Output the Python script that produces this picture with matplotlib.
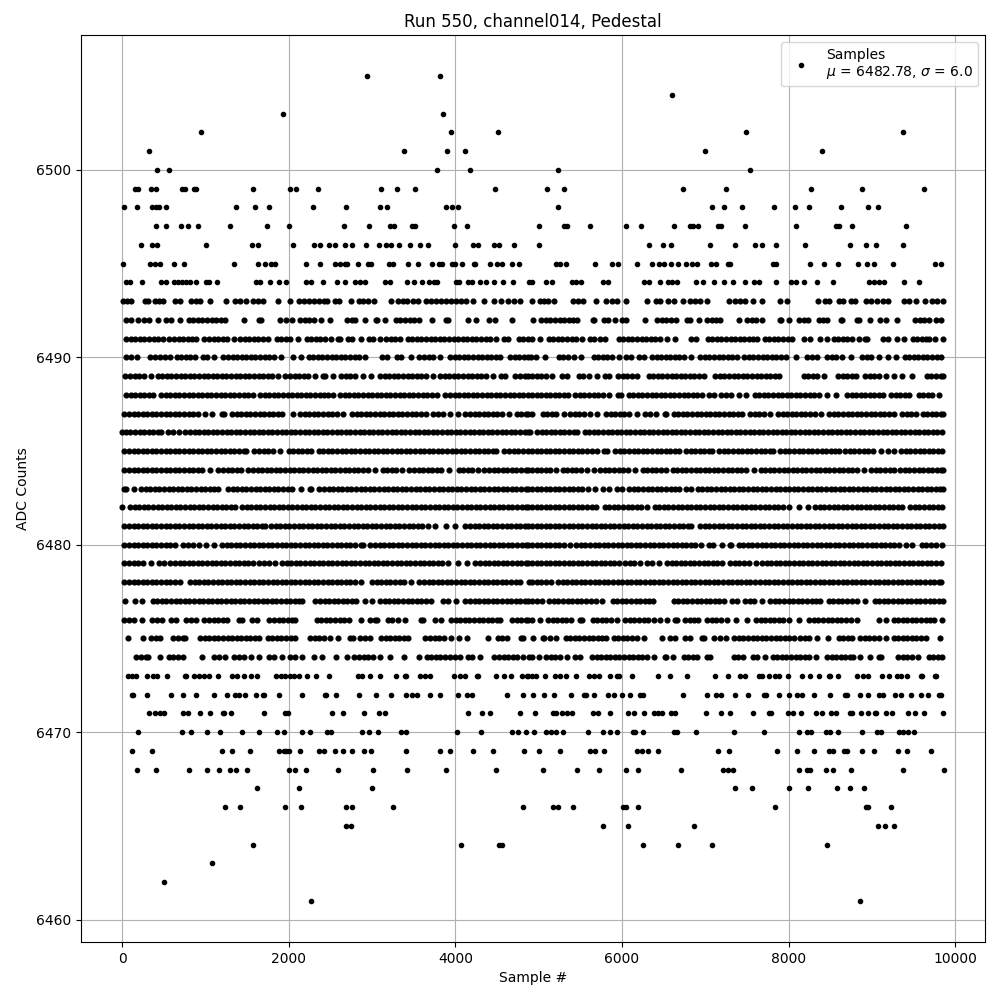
import numpy as np
import matplotlib
matplotlib.use("Agg")
import matplotlib.pyplot as plt

# sample numbers, one list per ADC level
s6505 = [2936, 3812]
s6504 = [6600]
s6503 = [1928, 3848]
s6502 = [944, 3944, 4508, 7488, 9372]
s6501 = [320, 3380, 3896, 4112, 6996, 8400]
s6500 = [416, 560, 3776, 4172, 5232, 7536]
s6499 = [152, 188, 344, 404, 716, 756, 864, 892, 1568, 2012, 2084, 2348, 3104, 3296, 3512, 4472, 5100, 5304, 6732, 7248, 8268, 8880, 9624]
s6498 = [20, 176, 356, 404, 440, 524, 1364, 1592, 1760, 2288, 2684, 3092, 3176, 3884, 3956, 4028, 5232, 7080, 7224, 7440, 7824, 8076, 8244, 8628, 8952, 9072]
s6497 = [404, 524, 704, 788, 908, 1292, 1736, 2000, 2660, 2960, 3212, 3260, 3476, 3512, 3980, 4136, 5004, 5304, 5340, 5616, 6048, 6228, 6624, 6816, 6852, 6912, 7152, 7188, 7476, 8088, 8568, 8604, 8760, 9408]
s6496 = [224, 356, 420, 1004, 1556, 1628, 2048, 2300, 2372, 2480, 2552, 2672, 2756, 2924, 3080, 3164, 3224, 3320, 3452, 3572, 3668, 3992, 4208, 4268, 4460, 4520, 4700, 5004, 6324, 6492, 6588, 7056, 7356, 7596, 7680, 7848, 8196, 8736, 8928, 9048, 9372]
s6495 = [12, 332, 392, 452, 620, 740, 1340, 1628, 1712, 1784, 1832, 2204, 2372, 2552, 2612, 2672, 2696, 2828, 2948, 2988, 3200, 3248, 3428, 3548, 3716, 3800, 3840, 3956, 3992, 4076, 4220, 4240, 4412, 4496, 4556, 4676, 4760,
         5208, 5256, 5328, 5676, 5880, 5952, 6180, 6360, 6444, 6504, 6588, 6672, 6768, 6840, 6900, 7068, 7128, 7272, 7296, 7812, 7848, 8256, 8424, 8592, 8832, 8940, 9024, 9252, 9756, 9828]
s6494 = [44, 92, 236, 464, 524, 620, 668, 716, 764, 812, 884, 1004, 1040, 1136, 1604, 1652, 1772, 1880, 1964, 2204, 2264, 2408, 2576, 2672, 2792, 2852, 2912, 3152, 3212, 3416, 3500, 3596, 3680, 3740, 3776, 4004, 4040, 4148, 4196, 4292, 4364, 4460, 4568, 4688, 4880,
         4920, 5088, 5160, 5400, 5448, 5508, 5772, 5832, 6264, 6324, 6456, 6552, 6600, 6660, 6888, 6972, 7104, 7224, 7332, 7476, 7584, 7644, 7848, 8028, 8088, 8184, 8340, 8532, 8964, 9024, 9084, 9144, 9384, 9564]
s6493 = [8, 56, 104, 272, 308, 392, 440, 488, 632, 692, 824, 884, 932, 1052, 1244, 1352, 1412, 1484, 1568, 1628, 1688, 1868, 2012, 2120, 2180, 2240, 2300, 2360, 2420, 2456, 2552, 2600, 2744, 2840, 2888, 2948, 3020, 3224, 3308, 3368, 3416, 3488, 3548, 3644, 3704, 3764, 3824, 3884, 3944, 4004, 4064, 4124, 4208, 4340, 4460, 4544, 4628, 4700, 4772,
         4920, 5016, 5064, 5112, 5184, 5412, 5472, 5532, 5688, 5808, 5880, 5940, 6048, 6300, 6408, 6456, 6552, 6624, 6732, 6816, 6876, 6936, 7020, 7284, 7356, 7416, 7476, 7572, 7680, 7896, 7980, 8352, 8436, 8484, 8604, 8652, 8748, 8796, 8928, 8988, 9060, 9132, 9192, 9384, 9444, 9528, 9636, 9720, 9780, 9852]
s6492 = [44, 112, 188, 260, 320, 428, 532, 584, 700, 800, 855, 910, 965, 1020, 1075, 1130, 1185, 1232, 1460, 1640, 1665, 1892, 1972, 2040, 2136, 2190, 2245, 2300, 2384, 2500, 2700, 2755, 2800, 2912, 3048, 3064, 3152, 3288, 3340, 3395, 3450, 3505, 3560, 3720, 3888, 3912, 4148, 4244, 4408, 4472, 4676,
         4932, 5032, 5087, 5142, 5197, 5252, 5307, 5362, 5417, 5464, 5652, 5664, 5780, 5835, 5912, 6000, 6044, 6276, 6420, 6475, 6530, 6585, 6644, 6780, 6816, 6924, 7020, 7075, 7130, 7176, 7404, 7500, 7555, 7610, 7684, 7900, 7912, 8004, 8120, 8180, 8236, 8360, 8415, 8456, 8632, 8644, 8820, 8844, 8976, 9092, 9168, 9300, 9520, 9575, 9630, 9680, 9768, 9824]
s6491 = [48, 103, 158, 213, 268, 323, 378, 433, 492, 568, 623, 678, 733, 788, 843, 892, 988, 1043, 1098, 1153, 1208, 1263, 1344, 1416, 1471, 1526, 1581, 1636, 1691, 1752, 1856, 1911, 1966, 2021, 2112, 2216, 2271, 2326, 2381, 2436, 2512, 2588, 2612, 2708, 2763, 2872, 2960, 3015, 3092, 3168, 3223, 3278, 3332, 3428, 3483, 3538, 3593, 3648, 3703, 3758, 3813, 3868, 3923, 3978, 4033, 4088, 4143, 4198, 4253, 4308, 4363, 4418, 4492, 4588, 4632, 4760, 4815, 4872,
         4920, 5016, 5120, 5175, 5230, 5285, 5340, 5395, 5450, 5524, 5612, 5660, 5732, 5792, 5960, 6015, 6070, 6125, 6180, 6235, 6290, 6345, 6400, 6455, 6536, 6636, 6832, 6884, 7028, 7083, 7138, 7193, 7248, 7303, 7358, 7413, 7468, 7523, 7578, 7624, 7712, 7767, 7822, 7877, 7932, 7987, 8044, 8184, 8252, 8380, 8456, 8540, 8595, 8650, 8705, 8760, 8844, 8920, 8944, 9132, 9192, 9300, 9384, 9488, 9543, 9598, 9653, 9684, 9752, 9852]
s6490 = [48, 103, 184, 336, 395, 450, 510, 572, 656, 710, 765, 820, 872, 976, 1024, 1100, 1216, 1271, 1326, 1381, 1436, 1491, 1546, 1601, 1656, 1711, 1766, 1821, 1912, 2056, 2152, 2240, 2295, 2350, 2405, 2460, 2515, 2570, 2625, 2680, 2735, 2790, 2845, 2912, 3120, 3184, 3304, 3352, 3472, 3568, 3623, 3678, 3733, 3812, 3936, 3991, 4046, 4101, 4156, 4211, 4266, 4321, 4376, 4431, 4486, 4532, 4656, 4711, 4766, 4821, 4872,
         4912, 4972, 5072, 5240, 5295, 5350, 5424, 5512, 5660, 5715, 5770, 5825, 5880, 5964, 6052, 6112, 6200, 6264, 6360, 6415, 6470, 6525, 6580, 6635, 6690, 6745, 6824, 6940, 6995, 7050, 7105, 7160, 7215, 7270, 7325, 7384, 7468, 7523, 7578, 7633, 7688, 7743, 7798, 7853, 7908, 7964, 8092, 8220, 8275, 8344, 8460, 8515, 8570, 8644, 8752, 8880, 8935, 8990, 9084, 9192, 9284, 9392, 9447, 9502, 9557, 9612, 9667, 9722, 9777, 9832]
s6489 = [40, 95, 150, 205, 260, 344, 428, 483, 538, 593, 648, 703, 758, 813, 868, 923, 978, 1033, 1088, 1143, 1198, 1253, 1308, 1363, 1418, 1473, 1528, 1583, 1638, 1693, 1748, 1803, 1872, 1960, 2015, 2070, 2125, 2180, 2235, 2312, 2408, 2432, 2532, 2628, 2683, 2738, 2792, 2888, 2984, 3096, 3151, 3206, 3261, 3316, 3371, 3426, 3481, 3536, 3591, 3652, 3736, 3816, 3871, 3926, 3981, 4036, 4091, 4146, 4201, 4256, 4311, 4366, 4452, 4548, 4600, 4720, 4775, 4830, 4872,
         4920, 4975, 5030, 5085, 5164, 5280, 5344, 5480, 5535, 5604, 5704, 5792, 5844, 5952, 6007, 6062, 6117, 6184, 6320, 6375, 6430, 6485, 6540, 6595, 6650, 6705, 6760, 6815, 6870, 6925, 6984, 7120, 7175, 7230, 7285, 7340, 7395, 7450, 7505, 7560, 7615, 7670, 7725, 7780, 7835, 7884, 8180, 8235, 8290, 8345, 8424, 8592, 8647, 8702, 8757, 8804, 8920, 8975, 9030, 9085, 9164, 9260, 9364, 9484, 9660, 9715, 9770, 9825, 9850]
s6488 = [48, 103, 158, 213, 268, 323, 372, 468, 523, 578, 633, 688, 743, 798, 853, 908, 963, 1018, 1073, 1128, 1183, 1238, 1293, 1348, 1403, 1458, 1513, 1572, 1656, 1711, 1766, 1821, 1876, 1931, 1986, 2041, 2096, 2151, 2206, 2261, 2316, 2371, 2426, 2472, 2532, 2616, 2671, 2726, 2781, 2836, 2891, 2946, 3001, 3056, 3111, 3166, 3221, 3276, 3331, 3386, 3441, 3496, 3551, 3606, 3661, 3716, 3784, 3880, 3935, 3990, 4045, 4100, 4155, 4210, 4265, 4320, 4375, 4430, 4485, 4540, 4595, 4650, 4705, 4760, 4815, 4872,
         4920, 4975, 5030, 5085, 5140, 5195, 5250, 5305, 5352, 5440, 5495, 5550, 5605, 5660, 5715, 5770, 5844, 5948, 5984, 6080, 6135, 6190, 6245, 6300, 6355, 6410, 6465, 6520, 6575, 6630, 6685, 6740, 6795, 6850, 6905, 6960, 7044, 7100, 7192, 7247, 7312, 7408, 7484, 7592, 7647, 7702, 7757, 7812, 7867, 7922, 7977, 8032, 8087, 8142, 8197, 8252, 8307, 8362, 8464, 8572, 8700, 8755, 8810, 8865, 8920, 8975, 9030, 9085, 9136, 9232, 9287, 9342, 9397, 9444, 9560, 9615, 9670, 9725, 9804]
s6487 = [28, 83, 138, 193, 248, 303, 358, 413, 468, 523, 578, 633, 688, 743, 798, 853, 908, 992, 1084, 1196, 1224, 1320, 1375, 1430, 1485, 1540, 1595, 1650, 1705, 1760, 1815, 1870, 1925, 2052, 2136, 2191, 2246, 2301, 2356, 2411, 2466, 2521, 2576, 2652, 2760, 2815, 2870, 2925, 2980, 3035, 3090, 3145, 3200, 3255, 3310, 3365, 3420, 3475, 3530, 3585, 3652, 3736, 3791, 3846, 3932, 4032, 4120, 4175, 4230, 4285, 4340, 4395, 4450, 4505, 4560, 4640, 4736, 4791, 4846, 4872,
         4920, 5048, 5103, 5158, 5213, 5304, 5380, 5435, 5490, 5545, 5616, 5704, 5808, 5863, 5918, 5973, 6028, 6083, 6176, 6280, 6335, 6404, 6512, 6524, 6620, 6675, 6730, 6785, 6840, 6895, 6950, 7005, 7060, 7115, 7170, 7225, 7280, 7335, 7390, 7444, 7540, 7595, 7650, 7705, 7776, 7872, 7927, 7982, 8037, 8092, 8147, 8202, 8257, 8312, 8384, 8488, 8543, 8598, 8653, 8708, 8763, 8818, 8873, 8928, 8983, 9038, 9093, 9148, 9203, 9264, 9360, 9415, 9470, 9524, 9608, 9663, 9718, 9773, 9828, 9850]
s6486 = [0, 45, 100, 155, 210, 265, 320, 375, 430, 472, 556, 611, 680, 760, 815, 870, 925, 980, 1035, 1090, 1145, 1200, 1255, 1310, 1365, 1420, 1475, 1530, 1585, 1640, 1695, 1750, 1805, 1860, 1915, 1970, 2025, 2080, 2135, 2190, 2245, 2300, 2355, 2410, 2465, 2520, 2575, 2630, 2685, 2740, 2795, 2850, 2905, 2960, 3015, 3070, 3125, 3180, 3235, 3290, 3345, 3400, 3455, 3510, 3565, 3620, 3675, 3730, 3785, 3840, 3895, 3950, 4005, 4060, 4115, 4170, 4225, 4280, 4335, 4390, 4445, 4500, 4555, 4610, 4665, 4720, 4775, 4830, 4872,
         4900, 4980, 5035, 5090, 5145, 5200, 5255, 5310, 5365, 5420, 5464, 5552, 5607, 5662, 5717, 5772, 5827, 5882, 5937, 5992, 6047, 6102, 6157, 6212, 6267, 6322, 6377, 6432, 6487, 6542, 6597, 6652, 6707, 6762, 6817, 6872, 6927, 6982, 7037, 7092, 7147, 7202, 7257, 7312, 7367, 7422, 7477, 7532, 7587, 7642, 7697, 7752, 7807, 7862, 7917, 7972, 8027, 8082, 8137, 8192, 8247, 8302, 8357, 8412, 8467, 8522, 8577, 8632, 8687, 8742, 8797, 8852, 8907, 8962, 9017, 9072, 9127, 9182, 9237, 9292, 9347, 9402, 9457, 9512, 9567, 9622, 9677, 9732, 9787, 9844]
s6485 = [28, 83, 138, 193, 248, 303, 358, 413, 468, 523, 578, 633, 688, 743, 798, 853, 908, 963, 1018, 1073, 1128, 1183, 1238, 1293, 1348, 1403, 1458, 1492, 1588, 1643, 1698, 1753, 1808, 1892, 2000, 2055, 2110, 2165, 2220, 2272, 2360, 2415, 2470, 2525, 2580, 2635, 2690, 2745, 2800, 2855, 2910, 2965, 3020, 3075, 3130, 3185, 3240, 3295, 3350, 3405, 3460, 3515, 3570, 3625, 3680, 3735, 3790, 3845, 3900, 3955, 4010, 4065, 4120, 4175, 4230, 4285, 4340, 4395, 4450, 4492, 4588, 4643, 4698, 4753, 4808, 4872,
         4920, 4975, 5030, 5085, 5140, 5195, 5250, 5305, 5360, 5415, 5470, 5525, 5580, 5635, 5704, 5780, 5824, 5920, 5975, 6030, 6085, 6140, 6195, 6250, 6305, 6360, 6415, 6470, 6525, 6580, 6635, 6684, 6768, 6823, 6878, 6933, 6988, 7043, 7084, 7168, 7223, 7278, 7333, 7388, 7443, 7498, 7553, 7608, 7663, 7718, 7773, 7816, 7900, 7955, 8010, 8065, 8120, 8175, 8230, 8285, 8340, 8395, 8450, 8505, 8560, 8604, 8680, 8735, 8790, 8845, 8900, 8955, 9010, 9104, 9192, 9264, 9352, 9407, 9462, 9517, 9572, 9627, 9682, 9737, 9792, 9836]
s6484 = [28, 83, 138, 193, 248, 303, 358, 413, 468, 523, 578, 633, 688, 743, 798, 853, 908, 963, 1052, 1156, 1211, 1266, 1321, 1376, 1432, 1516, 1571, 1626, 1681, 1736, 1791, 1846, 1901, 1956, 2011, 2066, 2121, 2176, 2231, 2286, 2341, 2396, 2451, 2506, 2561, 2616, 2671, 2726, 2781, 2836, 2891, 2946, 3040, 3128, 3183, 3238, 3293, 3360, 3448, 3503, 3558, 3613, 3668, 3723, 3778, 3833, 3920, 4040, 4095, 4150, 4205, 4272, 4348, 4403, 4458, 4513, 4568, 4623, 4678, 4733, 4788, 4843, 4872,
         4920, 4975, 5030, 5085, 5140, 5204, 5288, 5343, 5398, 5453, 5508, 5584, 5660, 5740, 5795, 5850, 5905, 5960, 6015, 6070, 6152, 6248, 6303, 6358, 6413, 6468, 6524, 6608, 6663, 6718, 6773, 6828, 6883, 6938, 6993, 7048, 7103, 7158, 7213, 7268, 7323, 7378, 7433, 7488, 7584, 7664, 7719, 7774, 7829, 7884, 7939, 7994, 8049, 8104, 8159, 8214, 8269, 8324, 8379, 8434, 8489, 8544, 8599, 8654, 8709, 8764, 8819, 8904, 8992, 9047, 9102, 9157, 9212, 9264, 9340, 9395, 9450, 9505, 9560, 9615, 9670, 9725, 9780, 9835, 9850]
s6483 = [28, 52, 140, 228, 283, 338, 393, 448, 503, 558, 613, 668, 723, 778, 833, 888, 943, 998, 1053, 1108, 1152, 1272, 1327, 1382, 1437, 1492, 1547, 1602, 1657, 1712, 1767, 1822, 1877, 1932, 1987, 2042, 2144, 2256, 2272, 2368, 2423, 2478, 2533, 2588, 2643, 2698, 2753, 2808, 2863, 2918, 2973, 3028, 3083, 3138, 3193, 3248, 3303, 3358, 3413, 3468, 3523, 3578, 3633, 3688, 3743, 3798, 3853, 3908, 3963, 4018, 4073, 4128, 4183, 4238, 4293, 4348, 4403, 4458, 4513, 4568, 4623, 4678, 4733, 4788, 4843, 4872,
         4920, 4975, 5030, 5085, 5140, 5195, 5250, 5305, 5360, 5415, 5470, 5525, 5592, 5680, 5776, 5844, 5940, 6004, 6088, 6143, 6198, 6253, 6308, 6363, 6418, 6473, 6528, 6583, 6638, 6684, 6772, 6832, 6908, 6963, 7018, 7073, 7128, 7183, 7238, 7293, 7348, 7403, 7458, 7513, 7568, 7623, 7678, 7733, 7788, 7843, 7898, 7953, 8008, 8063, 8118, 8173, 8228, 8283, 8338, 8393, 8448, 8503, 8558, 8613, 8668, 8723, 8778, 8833, 8888, 8943, 8998, 9053, 9108, 9163, 9218, 9273, 9328, 9383, 9438, 9493, 9548, 9603, 9658, 9713, 9768, 9823, 9850]
s6482 = [0, 96, 151, 206, 261, 316, 371, 426, 481, 536, 591, 646, 701, 756, 811, 866, 921, 976, 1031, 1086, 1141, 1196, 1251, 1306, 1352, 1440, 1495, 1550, 1605, 1660, 1715, 1770, 1825, 1880, 1935, 1990, 2045, 2100, 2155, 2210, 2265, 2320, 2375, 2430, 2485, 2540, 2595, 2650, 2705, 2760, 2815, 2870, 2925, 2980, 3035, 3090, 3145, 3200, 3255, 3310, 3365, 3420, 3475, 3530, 3585, 3640, 3695, 3750, 3805, 3860, 3915, 3970, 4025, 4080, 4135, 4190, 4245, 4300, 4355, 4410, 4465, 4520, 4575, 4630, 4685, 4740, 4795, 4850, 4872,
         4920, 4975, 5030, 5085, 5140, 5195, 5250, 5305, 5360, 5415, 5470, 5525, 5580, 5635, 5692, 5792, 5847, 5902, 5957, 6012, 6067, 6122, 6177, 6232, 6304, 6392, 6447, 6502, 6557, 6612, 6667, 6722, 6777, 6832, 6887, 6942, 6997, 7052, 7107, 7162, 7217, 7272, 7327, 7382, 7437, 7492, 7547, 7602, 7657, 7712, 7767, 7822, 7877, 7932, 8004, 8120, 8232, 8320, 8375, 8430, 8485, 8540, 8595, 8650, 8705, 8760, 8815, 8870, 8925, 8980, 9035, 9090, 9145, 9200, 9255, 9310, 9364, 9460, 9515, 9570, 9625, 9680, 9735, 9790, 9845]
s6481 = [28, 83, 138, 193, 248, 303, 358, 413, 468, 523, 578, 633, 688, 743, 798, 853, 908, 963, 1018, 1073, 1128, 1183, 1238, 1293, 1348, 1403, 1458, 1513, 1568, 1623, 1678, 1712, 1788, 1843, 1898, 1953, 2008, 2063, 2118, 2173, 2228, 2283, 2338, 2393, 2448, 2503, 2558, 2613, 2668, 2723, 2778, 2833, 2888, 2943, 2998, 3053, 3108, 3163, 3218, 3273, 3328, 3383, 3438, 3493, 3548, 3603, 3672, 3760, 3892, 3992, 4120, 4175, 4230, 4285, 4340, 4395, 4450, 4505, 4560, 4615, 4670, 4725, 4780, 4835, 4872,
         4920, 4975, 5030, 5085, 5140, 5195, 5250, 5305, 5360, 5415, 5470, 5525, 5580, 5635, 5690, 5745, 5800, 5855, 5910, 5965, 6020, 6075, 6130, 6185, 6240, 6295, 6350, 6405, 6460, 6515, 6570, 6625, 6680, 6735, 6790, 6832, 6940, 6995, 7050, 7105, 7160, 7215, 7270, 7325, 7380, 7435, 7490, 7545, 7600, 7655, 7710, 7765, 7820, 7875, 7930, 7985, 8040, 8095, 8150, 8205, 8260, 8315, 8370, 8425, 8480, 8535, 8590, 8645, 8700, 8755, 8810, 8865, 8920, 8975, 9030, 9085, 9140, 9195, 9250, 9305, 9360, 9415, 9470, 9525, 9580, 9635, 9690, 9745, 9800, 9850]
s6480 = [28, 83, 138, 193, 248, 303, 358, 413, 468, 523, 578, 632, 736, 791, 846, 920, 1008, 1104, 1200, 1255, 1310, 1365, 1420, 1475, 1530, 1585, 1640, 1695, 1750, 1805, 1860, 1915, 1970, 2025, 2080, 2135, 2190, 2245, 2300, 2355, 2410, 2465, 2520, 2575, 2630, 2685, 2740, 2792, 2868, 2892, 2980, 3035, 3090, 3145, 3200, 3255, 3310, 3365, 3420, 3475, 3530, 3585, 3640, 3695, 3750, 3805, 3860, 3915, 3970, 4025, 4080, 4135, 4190, 4245, 4300, 4355, 4410, 4465, 4520, 4575, 4630, 4685, 4740, 4795, 4850, 4872,
         4920, 4975, 5030, 5085, 5140, 5195, 5250, 5305, 5376, 5452, 5507, 5562, 5617, 5672, 5727, 5782, 5837, 5892, 5947, 6002, 6057, 6112, 6167, 6222, 6277, 6332, 6387, 6442, 6497, 6552, 6607, 6662, 6717, 6772, 6827, 6882, 6944, 7040, 7096, 7200, 7300, 7312, 7400, 7455, 7510, 7565, 7620, 7675, 7730, 7785, 7840, 7895, 7950, 8005, 8060, 8115, 8170, 8225, 8280, 8335, 8390, 8445, 8500, 8555, 8610, 8665, 8720, 8775, 8830, 8885, 8940, 8995, 9050, 9105, 9160, 9215, 9270, 9325, 9404, 9476, 9600, 9655, 9710, 9765, 9836]
s6479 = [28, 83, 138, 193, 248, 344, 440, 500, 580, 635, 690, 745, 800, 855, 910, 965, 1020, 1075, 1130, 1185, 1240, 1295, 1350, 1405, 1460, 1515, 1572, 1648, 1703, 1758, 1832, 1920, 1975, 2030, 2085, 2140, 2195, 2250, 2305, 2360, 2415, 2470, 2525, 2580, 2635, 2690, 2745, 2800, 2855, 2910, 2965, 3020, 3075, 3130, 3185, 3240, 3295, 3350, 3405, 3460, 3515, 3570, 3625, 3680, 3735, 3790, 3845, 3912, 4028, 4144, 4240, 4295, 4350, 4405, 4460, 4515, 4570, 4625, 4680, 4735, 4790, 4845, 4872,
         4920, 4975, 5030, 5085, 5140, 5195, 5250, 5305, 5360, 5415, 5470, 5525, 5580, 5635, 5690, 5745, 5800, 5855, 5910, 5964, 6040, 6095, 6150, 6216, 6300, 6355, 6444, 6540, 6595, 6650, 6705, 6760, 6815, 6870, 6925, 6980, 7035, 7090, 7145, 7204, 7300, 7355, 7410, 7465, 7520, 7604, 7680, 7735, 7790, 7845, 7900, 7955, 8010, 8065, 8120, 8175, 8230, 8285, 8340, 8395, 8450, 8505, 8560, 8615, 8670, 8725, 8780, 8835, 8890, 8945, 9000, 9055, 9110, 9165, 9220, 9275, 9330, 9385, 9440, 9495, 9550, 9605, 9660, 9715, 9770, 9824]
s6478 = [28, 83, 138, 193, 248, 303, 358, 413, 468, 523, 578, 633, 692, 816, 871, 926, 981, 1036, 1091, 1146, 1201, 1256, 1311, 1366, 1421, 1476, 1531, 1586, 1641, 1696, 1751, 1806, 1861, 1916, 1971, 2026, 2081, 2136, 2191, 2246, 2301, 2356, 2411, 2466, 2521, 2576, 2631, 2686, 2741, 2796, 2872, 3000, 3055, 3110, 3165, 3220, 3275, 3330, 3385, 3472, 3568, 3623, 3678, 3733, 3788, 3843, 3898, 3953, 4008, 4063, 4118, 4173, 4228, 4283, 4338, 4393, 4448, 4503, 4558, 4613, 4668, 4723, 4772, 4888,
         4920, 4975, 5030, 5085, 5152, 5232, 5287, 5342, 5397, 5452, 5507, 5562, 5617, 5672, 5727, 5782, 5837, 5892, 5947, 6002, 6057, 6112, 6167, 6222, 6277, 6332, 6387, 6442, 6497, 6552, 6607, 6662, 6717, 6772, 6827, 6882, 6937, 6992, 7047, 7102, 7157, 7212, 7267, 7322, 7377, 7432, 7487, 7542, 7597, 7652, 7712, 7767, 7822, 7877, 7932, 7987, 8042, 8097, 8152, 8207, 8262, 8317, 8372, 8427, 8482, 8537, 8592, 8647, 8702, 8757, 8812, 8867, 8922, 8977, 9032, 9087, 9142, 9197, 9252, 9307, 9362, 9417, 9472, 9527, 9582, 9637, 9692, 9747, 9802, 9824]
s6477 = [32, 160, 240, 368, 423, 478, 533, 588, 643, 698, 753, 808, 863, 918, 973, 1028, 1083, 1138, 1193, 1248, 1303, 1358, 1413, 1468, 1523, 1578, 1633, 1688, 1743, 1798, 1853, 1908, 1963, 2018, 2073, 2128, 2160, 2320, 2375, 2430, 2485, 2540, 2595, 2650, 2705, 2760, 2812, 2920, 3000, 3096, 3151, 3206, 3261, 3316, 3371, 3426, 3481, 3536, 3591, 3646, 3712, 3848, 3912, 4012, 4120, 4175, 4230, 4285, 4340, 4395, 4450, 4505, 4560, 4615, 4670, 4725, 4780, 4835, 4872,
         4920, 4975, 5044, 5128, 5183, 5238, 5293, 5348, 5403, 5458, 5513, 5568, 5623, 5684, 5764, 5888, 5943, 5998, 6053, 6108, 6163, 6218, 6273, 6328, 6376, 6620, 6675, 6730, 6785, 6840, 6895, 6950, 7005, 7060, 7115, 7170, 7224, 7320, 7376, 7480, 7535, 7590, 7684, 7780, 7835, 7890, 7945, 8000, 8055, 8110, 8165, 8220, 8275, 8330, 8376, 8480, 8535, 8590, 8645, 8700, 8755, 8824, 8912, 9032, 9087, 9142, 9197, 9252, 9307, 9362, 9417, 9472, 9527, 9582, 9637, 9692, 9747, 9802, 9850]
s6476 = [28, 83, 138, 240, 360, 415, 480, 588, 652, 772, 828, 892, 988, 1043, 1098, 1153, 1208, 1264, 1400, 1440, 1560, 1624, 1768, 1823, 1878, 1933, 1988, 2043, 2080, 2336, 2391, 2446, 2501, 2556, 2611, 2666, 2720, 2868, 2976, 3031, 3064, 3188, 3243, 3312, 3392, 3588, 3612, 3760, 3832, 3948, 4003, 4058, 4113, 4168, 4223, 4278, 4333, 4388, 4443, 4498, 4532, 4680, 4735, 4790, 4845, 4872,
         4920, 5016, 5112, 5167, 5222, 5277, 5332, 5384, 5500, 5524, 5648, 5703, 5758, 5813, 5868, 5936, 6040, 6095, 6150, 6205, 6260, 6315, 6384, 6460, 6544, 6640, 6656, 6760, 6815, 6870, 6912, 7020, 7075, 7130, 7185, 7264, 7368, 7504, 7608, 7663, 7718, 7773, 7828, 7883, 7938, 8004, 8124, 8248, 8303, 8358, 8413, 8468, 8523, 8578, 8633, 8688, 8743, 8824, 9080, 9164, 9260, 9315, 9370, 9425, 9480, 9535, 9590, 9645, 9700, 9744, 9844]
s6475 = [68, 248, 348, 403, 452, 616, 671, 726, 760, 936, 991, 1046, 1101, 1156, 1211, 1266, 1321, 1376, 1431, 1486, 1541, 1596, 1640, 1748, 1803, 1858, 1913, 1968, 2023, 2080, 2256, 2311, 2366, 2421, 2492, 2588, 2736, 2772, 2860, 2920, 2980, 3108, 3163, 3218, 3273, 3328, 3383, 3432, 3640, 3695, 3750, 3805, 3860, 3952, 4040, 4140, 4388, 4508, 4563, 4624, 4788, 4812,
         4932, 5048, 5064, 5140, 5204, 5324, 5379, 5434, 5489, 5544, 5599, 5654, 5709, 5764, 5804, 5900, 5955, 6010, 6065, 6120, 6175, 6264, 6480, 6580, 6632, 6752, 6820, 6960, 6984, 7100, 7176, 7252, 7348, 7403, 7458, 7513, 7568, 7623, 7678, 7733, 7788, 7843, 7898, 7953, 8008, 8064, 8140, 8195, 8250, 8344, 8472, 8600, 8655, 8710, 8764, 8860, 8915, 8970, 9025, 9080, 9164, 9260, 9315, 9370, 9425, 9480, 9535, 9590, 9644, 9812]
s6474 = [172, 228, 288, 312, 452, 560, 615, 670, 732, 960, 1108, 1163, 1240, 1348, 1403, 1458, 1552, 1640, 1768, 1823, 1920, 2016, 2071, 2160, 2300, 2396, 2564, 2700, 2788, 2843, 2898, 2953, 3008, 3092, 3212, 3380, 3560, 3656, 3711, 3766, 3821, 3876, 3931, 3992, 4060, 4148, 4203, 4292, 4468, 4523, 4578, 4633, 4688, 4743, 4812, 4880,
         4920, 5004, 5088, 5143, 5198, 5253, 5336, 5432, 5492, 5640, 5695, 5750, 5805, 5860, 5915, 5970, 6025, 6080, 6135, 6190, 6245, 6300, 6384, 6520, 6524, 6612, 6740, 6795, 6850, 6904, 7020, 7056, 7340, 7395, 7456, 7568, 7623, 7712, 7808, 7863, 7918, 7973, 8028, 8083, 8138, 8193, 8248, 8324, 8460, 8515, 8570, 8625, 8680, 8735, 8776, 8860, 8976, 9080, 9112, 9312, 9367, 9422, 9477, 9552, 9680, 9735, 9790, 9844]
s6473 = [68, 120, 172, 300, 368, 420, 536, 760, 768, 868, 923, 978, 1040, 1148, 1320, 1375, 1464, 1548, 1620, 1848, 1903, 1958, 2013, 2068, 2120, 2220, 2324, 2484, 2828, 2883, 2972, 3092, 3284, 3400, 3412, 3576, 3631, 3692, 3988, 4052, 4112, 4256, 4272, 4488, 4588, 4672, 4800, 4855, 4872,
         4924, 4972, 5076, 5196, 5260, 5324, 5452, 5608, 5663, 5724, 5852, 5940, 5964, 6120, 6436, 6576, 6780, 7116, 7272, 7420, 7472, 7640, 7684, 7764, 7832, 7884, 7992, 8160, 8260, 8364, 8480, 8496, 8592, 8820, 8892, 8956, 9120, 9204, 9300, 9348, 9420, 9592, 9604, 9760, 9768]
s6472 = [120, 132, 300, 584, 728, 892, 1100, 1264, 1360, 1400, 1472, 1604, 1696, 1704, 1880, 2156, 2440, 2452, 2572, 2840, 3044, 3224, 3404, 3476, 3540, 3692, 3820, 4028, 4140, 4200, 4616, 4808,
         4932, 5068, 5188, 5388, 5540, 5564, 5664, 5832, 5904, 6000, 6096, 6220, 6256, 6732, 7020, 7124, 7192, 7356, 7512, 7700, 7724, 7884, 8004, 8100, 8164, 8304, 8500, 8680, 8696, 8856, 8956, 9088, 9136, 9280, 9344, 9472, 9588, 9672, 9800, 9824]
s6471 = [320, 400, 452, 508, 728, 792, 940, 1060, 1216, 1224, 1304, 1704, 1956, 1992, 2516, 2648, 2900, 3080, 3152, 4146, 4316, 4412, 4780,
         4956, 5168, 5204, 5284, 5340, 5400, 5656, 5712, 5856, 6072, 6144, 6264, 6380, 6435, 6484, 6588, 6640, 7008, 7188, 7296, 7572, 7768, 7792, 7992, 8047, 8144, 8328, 8400, 8512, 8572, 8740, 8764, 8868, 8952, 9040, 9044, 9168, 9240, 9432, 9516, 9624, 9848]
s6470 = [188, 716, 824, 1016, 1172, 1436, 1640, 1856, 1940, 2156, 2252, 2456, 2512, 2876, 2960, 3068, 3344, 3404, 4022, 4304, 4676, 4748, 4844,
         4944, 5092, 5148, 5204, 5292, 5592, 5772, 5856, 5940, 6130, 6162, 6248, 6620, 6664, 6888, 7344, 7704, 8124, 8220, 8264, 8444, 8492, 8592, 8880, 9060, 9112, 9320, 9375, 9430, 9504]
s6469 = [116, 356, 1196, 1316, 1532, 1880, 1940, 1970, 2000, 2132, 2360, 2420, 2552, 2648, 2756, 2900, 2984, 3404, 3812, 3932, 4208, 4448, 4820,
         5004, 5256, 5620, 5676, 5784, 6180, 6240, 6312, 6432, 7152, 7284, 7860, 8100, 8304, 8484, 8532, 8670, 8706, 8880, 9024, 9312, 9420, 9708]
s6468 = [176, 404, 800, 1016, 1160, 1292, 1364, 1496, 2000, 2072, 2204, 2588, 3008, 3416, 3884, 4484,
         5052, 5460, 5726, 6048, 6192, 6708, 7212, 7272, 7332, 8124, 8226, 8258, 8448, 8532, 8748, 9372, 9864]
s6467 = [1616, 2120, 2996, 7356, 7560, 8004, 8232, 8580, 8736, 8904]
s6466 = [1232, 1412, 1952, 2144, 2684, 2756, 3248, 4808, 5172, 5232, 5412, 6016, 6048, 6192, 7836, 8932, 8956, 9228]
s6465 = [2684, 2744, 5772, 6072, 6864, 9072, 9156, 9264]
s6464 = [1568, 4064, 4520, 4560, 6252, 6672, 7080, 8460]
s6463 = [1076]
s6462 = [500]
s6461 = [2264, 8856]

levels = list(range(6505, 6460, -1))
rows = [s6505, s6504, s6503, s6502, s6501, s6500, s6499, s6498, s6497, s6496,
        s6495, s6494, s6493, s6492, s6491, s6490, s6489, s6488, s6487, s6486,
        s6485, s6484, s6483, s6482, s6481, s6480, s6479, s6478, s6477, s6476,
        s6475, s6474, s6473, s6472, s6471, s6470, s6469, s6468, s6467, s6466,
        s6465, s6464, s6463, s6462, s6461]

# the crowded rows get a slightly fatter dot so they close up like the original
crowded = 100

x = np.concatenate([np.array(r, dtype=float) for r in rows])
y = np.concatenate([np.full(len(r), lev, dtype=float) for r, lev in zip(rows, levels)])
fat = np.concatenate([np.full(len(r), len(r) > crowded) for r in rows])

fig, ax = plt.subplots(figsize=(10, 10))
ax.plot(x[~fat], y[~fat], "k.", label="Samples\n$\\mu$ = 6482.78, $\\sigma$ = 6.0")
ax.plot(x[fat], y[fat], "k.", markersize=6.8)
ax.set_title("Run 550, channel014, Pedestal")
ax.set_xlabel("Sample #")
ax.set_ylabel("ADC Counts")
ax.grid(True)
ax.legend(loc="upper right")
fig.subplots_adjust(left=0.081, right=0.985, top=0.965, bottom=0.058)
fig.savefig("out.png", dpi=100)
